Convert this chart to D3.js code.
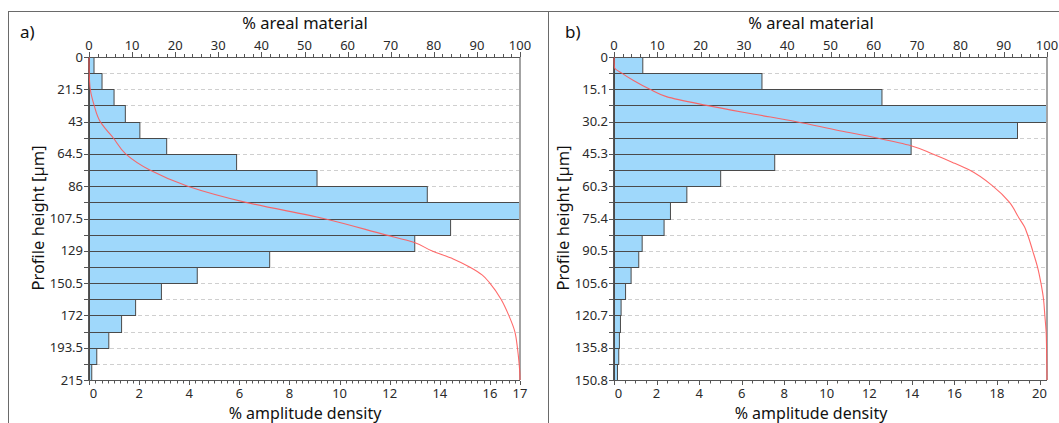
<!DOCTYPE html>
<html><head><meta charset="utf-8">
<script src="https://cdn.jsdelivr.net/npm/d3@7"></script>
<style>
html,body{margin:0;padding:0;background:#fff;}
svg{display:block;font-family:"Noto Sans",sans-serif;}
</style></head>
<body><svg id="c" width="1059" height="423"></svg>
<script>
// ---------- Panel a) ----------
const panelLabelA = "a)";
const binEdgesA = [0,10.75,21.5,32.25,43,53.75,64.5,75.25,86,96.75,107.5,118.25,129,139.75,150.5,161.25,172,182.75,193.5,204.25,215];
const densityA = [0.18,0.50,0.98,1.43,2.01,3.08,5.87,9.08,13.48,17.2,14.41,12.98,7.19,4.30,2.87,1.84,1.28,0.77,0.29,0.09];
const heightTickLabelsA = ["0","21.5","43","64.5","86","107.5","129","150.5","172","193.5","215"];
const densityTicksA = [0,2,4,6,8,10,12,14,16,17.2];
const densityMaxA = 17.2;
const curveHeightA = [0,10.75,21.5,32.25,43,48,53.75,64.5,75.25,86,96.75,107.5,118.25,123.5,129,134.4,139.75,145,150.5,161.25,172,182.75,193.5,204.25,210,215];
const curveMaterialA = [0,0.05,0.3,1.2,2.6,3.9,5.6,8.5,14.1,22.9,36.4,54.4,68.6,75.5,79.5,84.5,88.3,91.2,93,95.6,97.4,98.8,99.4,99.8,99.95,100];

// ---------- Panel b) ----------
const panelLabelB = "b)";
const binEdgesB = [0,7.54,15.08,22.62,30.16,37.7,45.24,52.78,60.32,67.86,75.4,82.94,90.48,98.02,105.56,113.1,120.64,128.18,135.72,143.26,150.8];
const densityB = [1.33,6.93,12.57,20.35,18.94,13.94,7.53,4.99,3.40,2.63,2.33,1.30,1.14,0.78,0.52,0.31,0.28,0.23,0.20,0.14];
const heightTickLabelsB = ["0","15.1","30.2","45.3","60.3","75.4","90.5","105.6","120.7","135.8","150.8"];
const densityTicksB = [0,2,4,6,8,10,12,14,16,18,20];
const densityMaxB = 20.35;
const curveHeightB = [0,4.9,7.54,11,15.1,18.5,22.6,26.6,30.2,34.4,37.7,41.4,45.3,49.2,52.8,60.3,67.8,75.4,79.3,82.9,90.5,98,105.6,113.1,120.7,128.3,135.8,150.8];
const curveMaterialB = [0,0.1,1.8,4.5,8.3,12.1,21.4,32.1,42.1,52.1,60.5,68.6,73.6,78.2,82.1,87.5,91.3,93.6,94.8,95.5,96.7,97.8,98.6,99.2,99.5,99.8,99.9,100];

const materialTicks = [0,10,20,30,40,50,60,70,80,90,100];
const topTitle = "% areal material";
const bottomTitle = "% amplitude density";
const leftTitle = "Profile height [µm]";

const svg = d3.select("#c");

// outer panel frame
const frame = svg.append("g").attr("stroke","#6a6a6a").attr("stroke-width",1).attr("fill","none");
frame.append("line").attr("x1",8).attr("x2",1059).attr("y1",11.5).attr("y2",11.5);
frame.append("line").attr("x1",8.5).attr("x2",8.5).attr("y1",11).attr("y2",423);
frame.append("line").attr("x1",548.5).attr("x2",548.5).attr("y1",11).attr("y2",423);

function drawPanel(cfg){
  const g = svg.append("g");
  const {x0,x1,y0,y1} = cfg;
  const yH = d3.scaleLinear().domain([cfg.binEdges[0], cfg.binEdges[cfg.binEdges.length-1]]).range([y0,y1]);
  const xD = d3.scaleLinear().domain([0,cfg.densityMax]).range([x0,x1]);
  const xM = d3.scaleLinear().domain([0,100]).range([x0,x1]);

  // grid lines (dashed)
  g.append("g").selectAll("line").data(cfg.binEdges.slice(1,-1)).join("line")
    .attr("x1",x0).attr("x2",x1)
    .attr("y1",d=>Math.round(yH(d))+0.5).attr("y2",d=>Math.round(yH(d))+0.5)
    .attr("stroke","#cfcfcf").attr("stroke-dasharray","4,3").attr("stroke-width",1);

  // bars
  g.append("g").selectAll("rect").data(cfg.density).join("rect")
    .attr("x",x0+0.5)
    .attr("y",(d,i)=>Math.round(yH(cfg.binEdges[i]))+0.5)
    .attr("width",d=>Math.max(0,xD(d)-x0))
    .attr("height",(d,i)=>Math.round(yH(cfg.binEdges[i+1]))-Math.round(yH(cfg.binEdges[i])))
    .attr("fill","#9fd8fb").attr("stroke","#4a4a4a").attr("stroke-width",1);

  // plot frame
  g.append("line").attr("x1",x1).attr("x2",x1).attr("y1",y0).attr("y2",y1)
    .attr("stroke","#a3a3a3").attr("stroke-width",2);
  const axc = "#555";
  g.append("line").attr("x1",x0-0.5).attr("x2",x1).attr("y1",y0+0.5).attr("y2",y0+0.5).attr("stroke",axc);
  g.append("line").attr("x1",x0-0.5).attr("x2",x1).attr("y1",y1+0.5).attr("y2",y1+0.5).attr("stroke",axc);
  g.append("line").attr("x1",x0-0.5).attr("x2",x0-0.5).attr("y1",y0).attr("y2",y1+0.5).attr("stroke",axc);

  // red material curve (on top)
  const pts = cfg.curveHeight.map((h,i)=>[cfg.curveMaterial[i],h]);
  g.append("path").datum(pts)
    .attr("d",d3.line().x(d=>xM(d[0])).y(d=>yH(d[1])).curve(d3.curveMonotoneY))
    .attr("fill","none").attr("stroke","#ff5a5a").attr("stroke-opacity",0.9).attr("stroke-width",1.1);

  // top axis (material)
  const topMinor = d3.range(0,100.01,2);
  g.append("g").selectAll("line").data(topMinor).join("line")
    .attr("x1",d=>Math.round(xM(d))+0.5).attr("x2",d=>Math.round(xM(d))+0.5)
    .attr("y1",y0).attr("y2",d=>y0-(d%10===0?5:3)).attr("stroke",axc);
  g.append("g").selectAll("text").data(materialTicks).join("text")
    .attr("x",d=>xM(d)).attr("y",y0-7).attr("text-anchor","middle")
    .attr("font-size",13).attr("fill","#2a2a2a").text(d=>d);

  // bottom axis (density)
  const botMinor = d3.range(0,cfg.densityMax+0.001,cfg.minorStep);
  g.append("g").selectAll("line").data(botMinor).join("line")
    .attr("x1",d=>Math.round(xD(d))+0.5).attr("x2",d=>Math.round(xD(d))+0.5)
    .attr("y1",y1+1).attr("y2",y1+3.5).attr("stroke",axc);
  g.append("g").selectAll("line").data(cfg.densityTicks).join("line")
    .attr("x1",d=>Math.round(xD(d))+0.5).attr("x2",d=>Math.round(xD(d))+0.5)
    .attr("y1",y1+1).attr("y2",y1+5).attr("stroke",axc);
  g.append("g").selectAll("text").data(cfg.densityTicks).join("text")
    .attr("x",(d,i)=>xD(d)+(i===0?4.5:0)).attr("y",y1+17.5).attr("text-anchor","middle")
    .attr("font-size",13).attr("fill","#2a2a2a").text(d=>d3.format(".0f")(d));

  // left axis (height)
  g.append("g").selectAll("line").data(cfg.binEdges).join("line")
    .attr("x1",x0-5).attr("x2",x0).attr("y1",d=>Math.round(yH(d))+0.5).attr("y2",d=>Math.round(yH(d))+0.5)
    .attr("stroke",axc);
  g.append("g").selectAll("text").data(cfg.heightLabels).join("text")
    .attr("x",x0-6).attr("y",(d,i)=>yH(cfg.binEdges[i*2])+4.5).attr("text-anchor","end")
    .attr("font-size",13).attr("fill","#2a2a2a").text(d=>d);

  // titles
  g.append("text").attr("x",cfg.titleX).attr("y",29).attr("text-anchor","middle")
    .attr("font-size",16.5).attr("fill","#111").text(topTitle);
  g.append("text").attr("x",cfg.titleX).attr("y",419).attr("text-anchor","middle")
    .attr("font-size",16).attr("fill","#111").text(bottomTitle);
  g.append("text").attr("transform",`translate(${cfg.yTitleX},218) rotate(-90)`).attr("text-anchor","middle")
    .attr("font-size",16.5).attr("fill","#111").text(leftTitle);
  g.append("text").attr("x",cfg.panelX).attr("y",38).attr("font-size",17).attr("fill","#111").text(cfg.panelLabel);
}

drawPanel({x0:89,x1:520,y0:57,y1:380,binEdges:binEdgesA,density:densityA,densityMax:densityMaxA,
  densityTicks:densityTicksA,minorStep:0.25,heightLabels:heightTickLabelsA,curveHeight:curveHeightA,curveMaterial:curveMaterialA,
  titleX:305,yTitleX:44,panelX:20,panelLabel:panelLabelA});
drawPanel({x0:614,x1:1047,y0:57,y1:380,binEdges:binEdgesB,density:densityB,densityMax:densityMaxB,
  densityTicks:densityTicksB,minorStep:0.5,heightLabels:heightTickLabelsB,curveHeight:curveHeightB,curveMaterial:curveMaterialB,
  titleX:811,yTitleX:569,panelX:565,panelLabel:panelLabelB});
</script></body></html>
